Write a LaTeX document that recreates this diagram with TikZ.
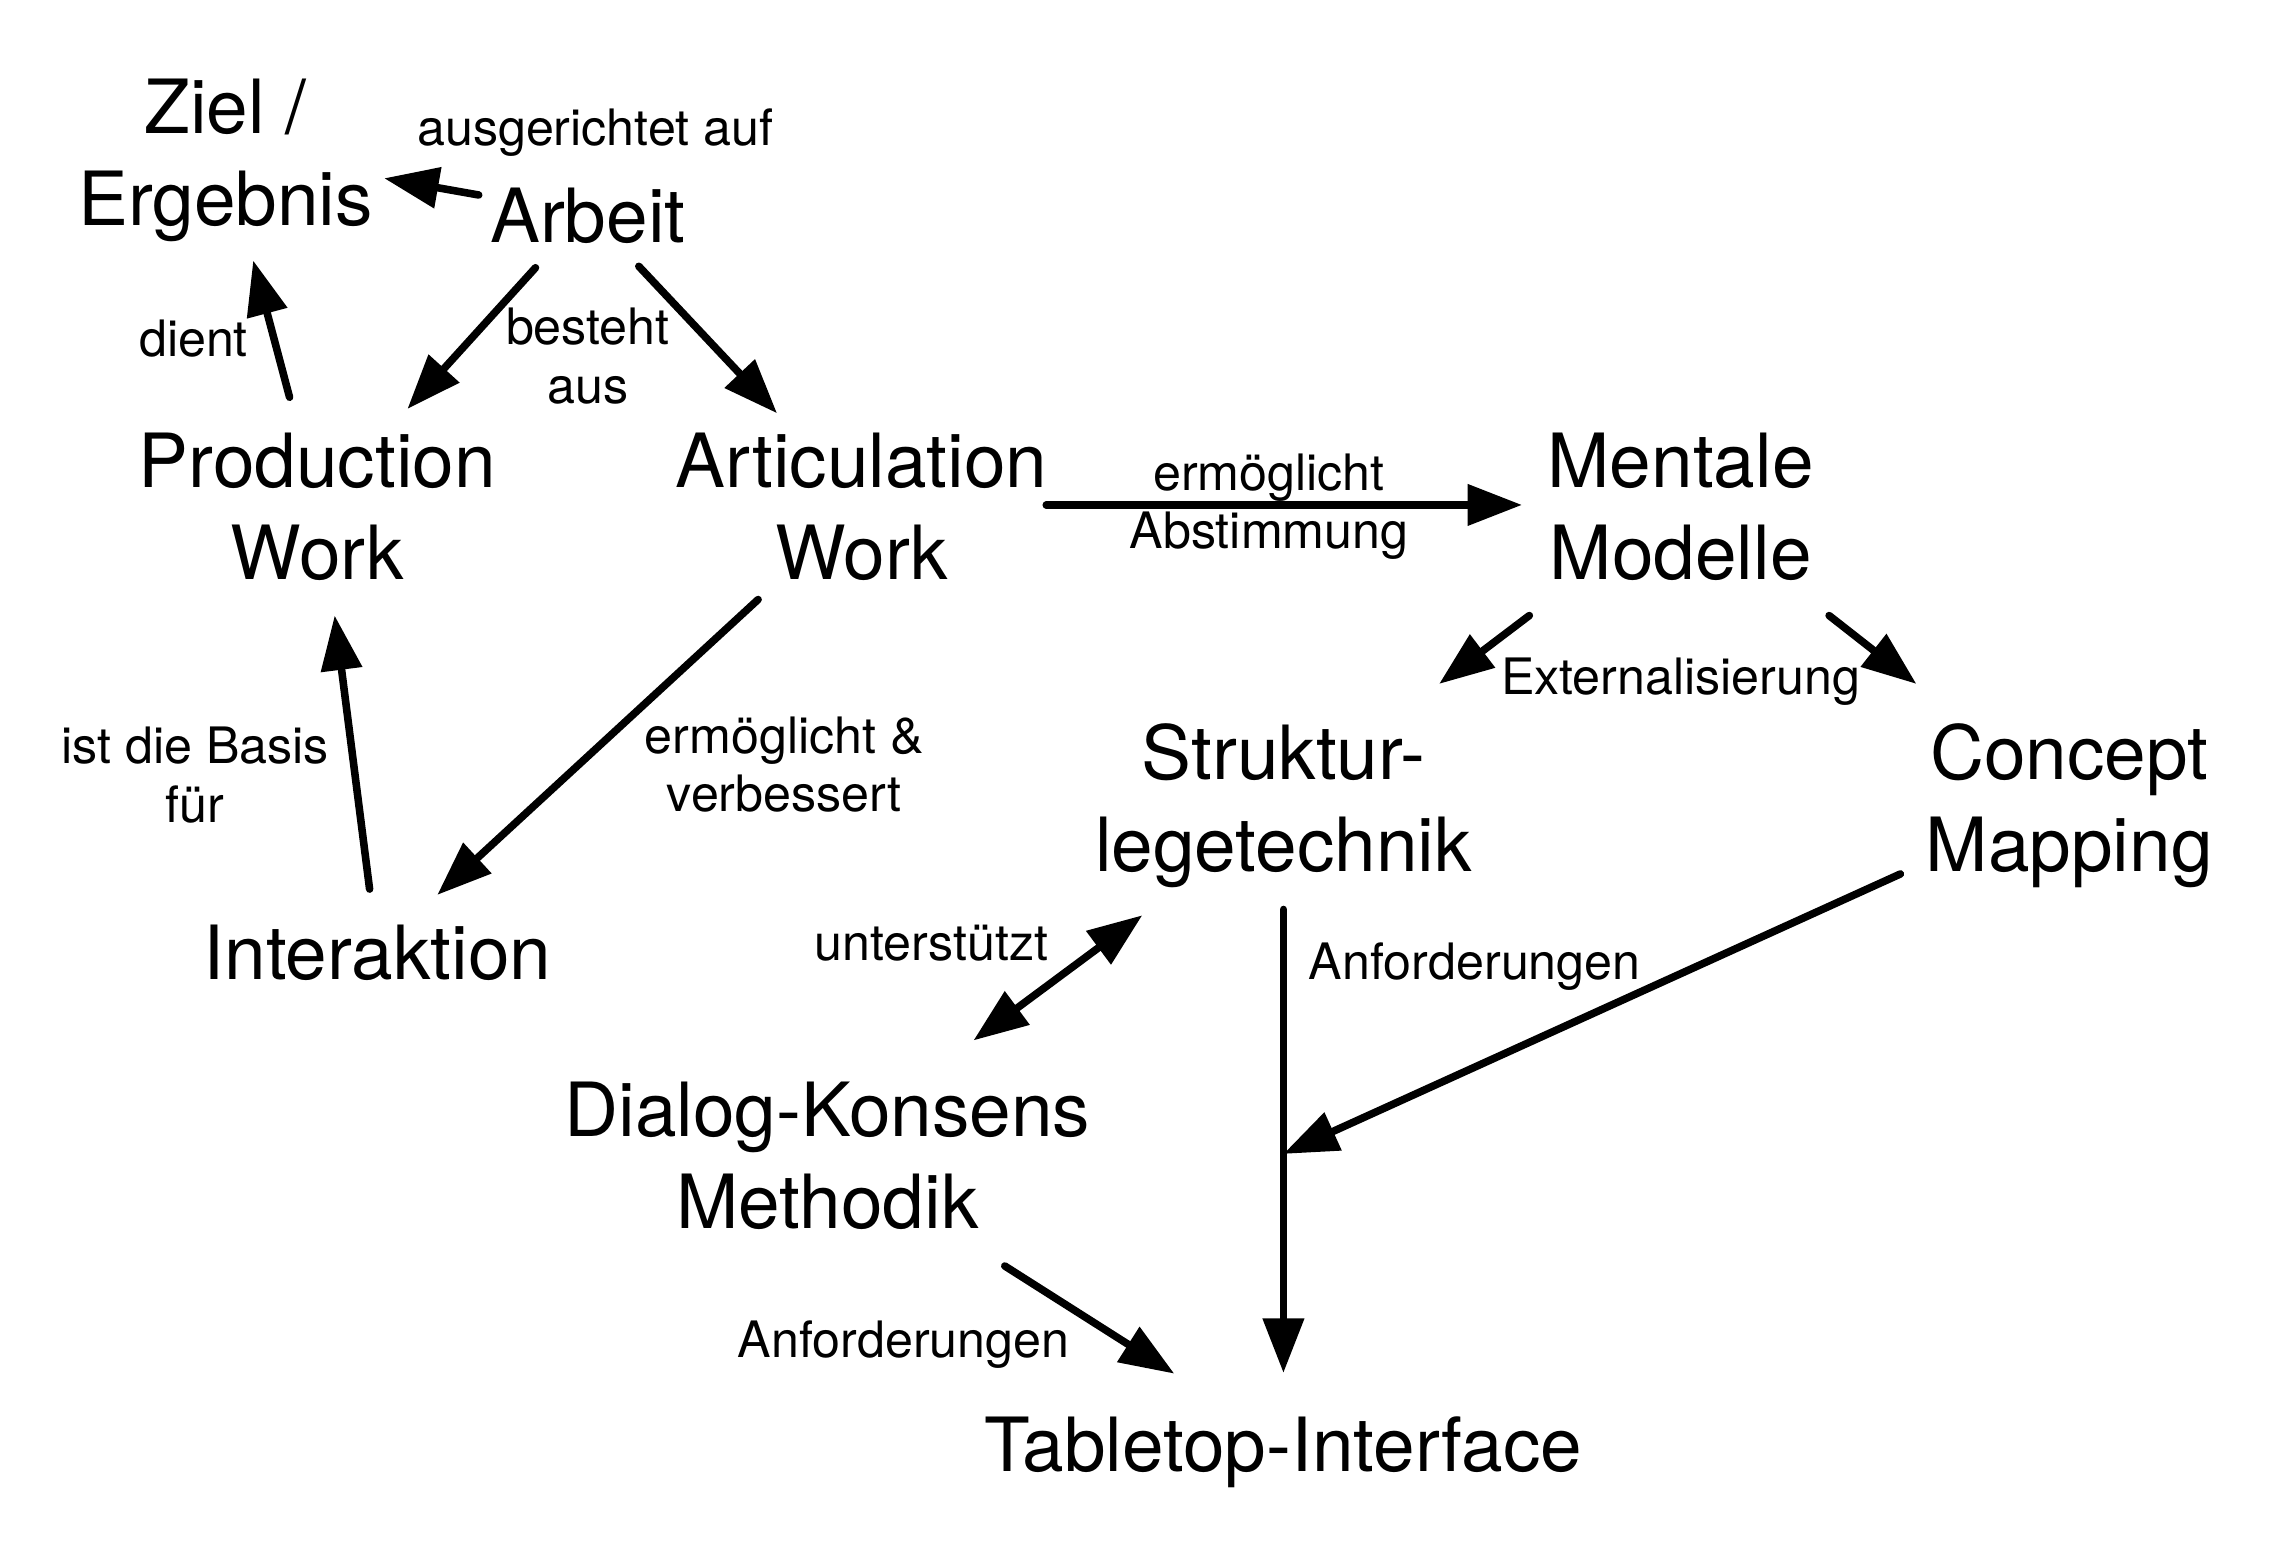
\documentclass[tikz,border=0pt]{standalone}
\usepackage{fontspec}
\setmainfont{TeX Gyre Heros}
\usetikzlibrary{arrows.meta}
\newcommand\mlines[1]{\begin{tabular}{@{}c@{}}#1\end{tabular}}
\begin{document}
\begin{tikzpicture}[x=0.5pt,y=-0.5pt,
  concept/.style={font=\fontsize{25.7}{31.5}\selectfont, inner sep=0pt, anchor=center},
  lbl/.style={font=\fontsize{17.25}{20}\selectfont, inner sep=0pt, anchor=center},
  arr/.style={line width=2.6pt, line cap=round, -{Triangle[length=18.75pt,width=13.75pt]}},
  dblarr/.style={line width=2.6pt, {Triangle[length=18.75pt,width=13.75pt]}-{Triangle[length=18.75pt,width=13.75pt]}},
]
\fill[white] (0,0) rectangle (1560,1061.8);
\useasboundingbox (0,0) rectangle (1560,1061.8);
% concepts
\node[concept] (ziel) at (155,110.9) {\mlines{Ziel /\\Ergebnis}};
\node[concept] (arbeit) at (404,153.9) {\mlines{Arbeit}};
\node[concept] (prod) at (218,353.9) {\mlines{Production\\Work}};
\node[concept] (art) at (592,353.9) {\mlines{Articulation\\Work}};
\node[concept] (ment) at (1155,353.9) {\mlines{Mentale\\Modelle}};
\node[concept] (strukt) at (882,554.9) {\mlines{Struktur-\\legetechnik}};
\node[concept] (concept) at (1422,554.9) {\mlines{Concept\\Mapping}};
\node[concept] (inter) at (259.5,660.4) {\mlines{Interaktion}};
\node[concept] (dialog) at (568.5,799.9) {\mlines{Dialog-Konsens\\Methodik}};
\node[concept] (table) at (882,998.9) {\mlines{Tabletop-Interface}};
% labels
\node[lbl] (l1) at (409,92) {\mlines{ausgerichtet auf}};
\node[lbl] (l2) at (133,237) {\mlines{dient}};
\node[lbl] (l3) at (404,249) {\mlines{besteht\\aus}};
\node[lbl] (l4) at (872,349) {\mlines{ermöglicht\\Abstimmung}};
\node[lbl] (l5) at (1155,469) {\mlines{Externalisierung}};
\node[lbl] (l6) at (134,537) {\mlines{ist die Basis\\für}};
\node[lbl] (l7) at (539,530) {\mlines{ermöglicht \&\\verbessert}};
\node[lbl] (l8) at (640,652) {\mlines{unterstützt}};
\node[lbl] (l9) at (1013.5,665) {\mlines{Anforderungen}};
\node[lbl] (l10) at (621,925) {\mlines{Anforderungen}};
% connectors
\draw[arr] ([shift={(-75,-19.9)}]arbeit.center) -- ([shift={(109,11.6)}]ziel.center);
\draw[arr] ([shift={(-19,-80.9)}]prod.center) -- ([shift={(19,68.1)}]ziel.center);
\draw[arr] ([shift={(-36,30.1)}]arbeit.center) -- ([shift={(62,-72.9)}]prod.center);
\draw[arr] ([shift={(35,29.1)}]arbeit.center) -- ([shift={(-58,-69.9)}]art.center);
\draw[arr] ([shift={(-5.5,-49.4)}]inter.center) -- ([shift={(12,69.1)}]prod.center);
\draw[arr] ([shift={(-71,58.1)}]art.center) -- ([shift={(41,-45.4)}]inter.center);
\draw[arr] ([shift={(127,-6.9)}]art.center) -- ([shift={(-109,-6.9)}]ment.center);
\draw[arr] ([shift={(-104,69.1)}]ment.center) -- ([shift={(107,-84.9)}]strukt.center);
\draw[arr] ([shift={(102,69.1)}]ment.center) -- ([shift={(-105,-84.9)}]concept.center);
\draw[arr] ([shift={(0,70.1)}]strukt.center) -- ([shift={(0,-55.4)}]table.center);
\coordinate (junc) at (882,793);
\draw[arr] ([shift={(-116,45.7)}]concept.center) -- (junc);
\draw[dblarr] ([shift={(-97,74.1)}]strukt.center) -- ([shift={(100.5,-84.9)}]dialog.center);
\draw[arr] ([shift={(122,70.1)}]dialog.center) -- ([shift={(-75,-54.9)}]table.center);
\end{tikzpicture}
\end{document}
